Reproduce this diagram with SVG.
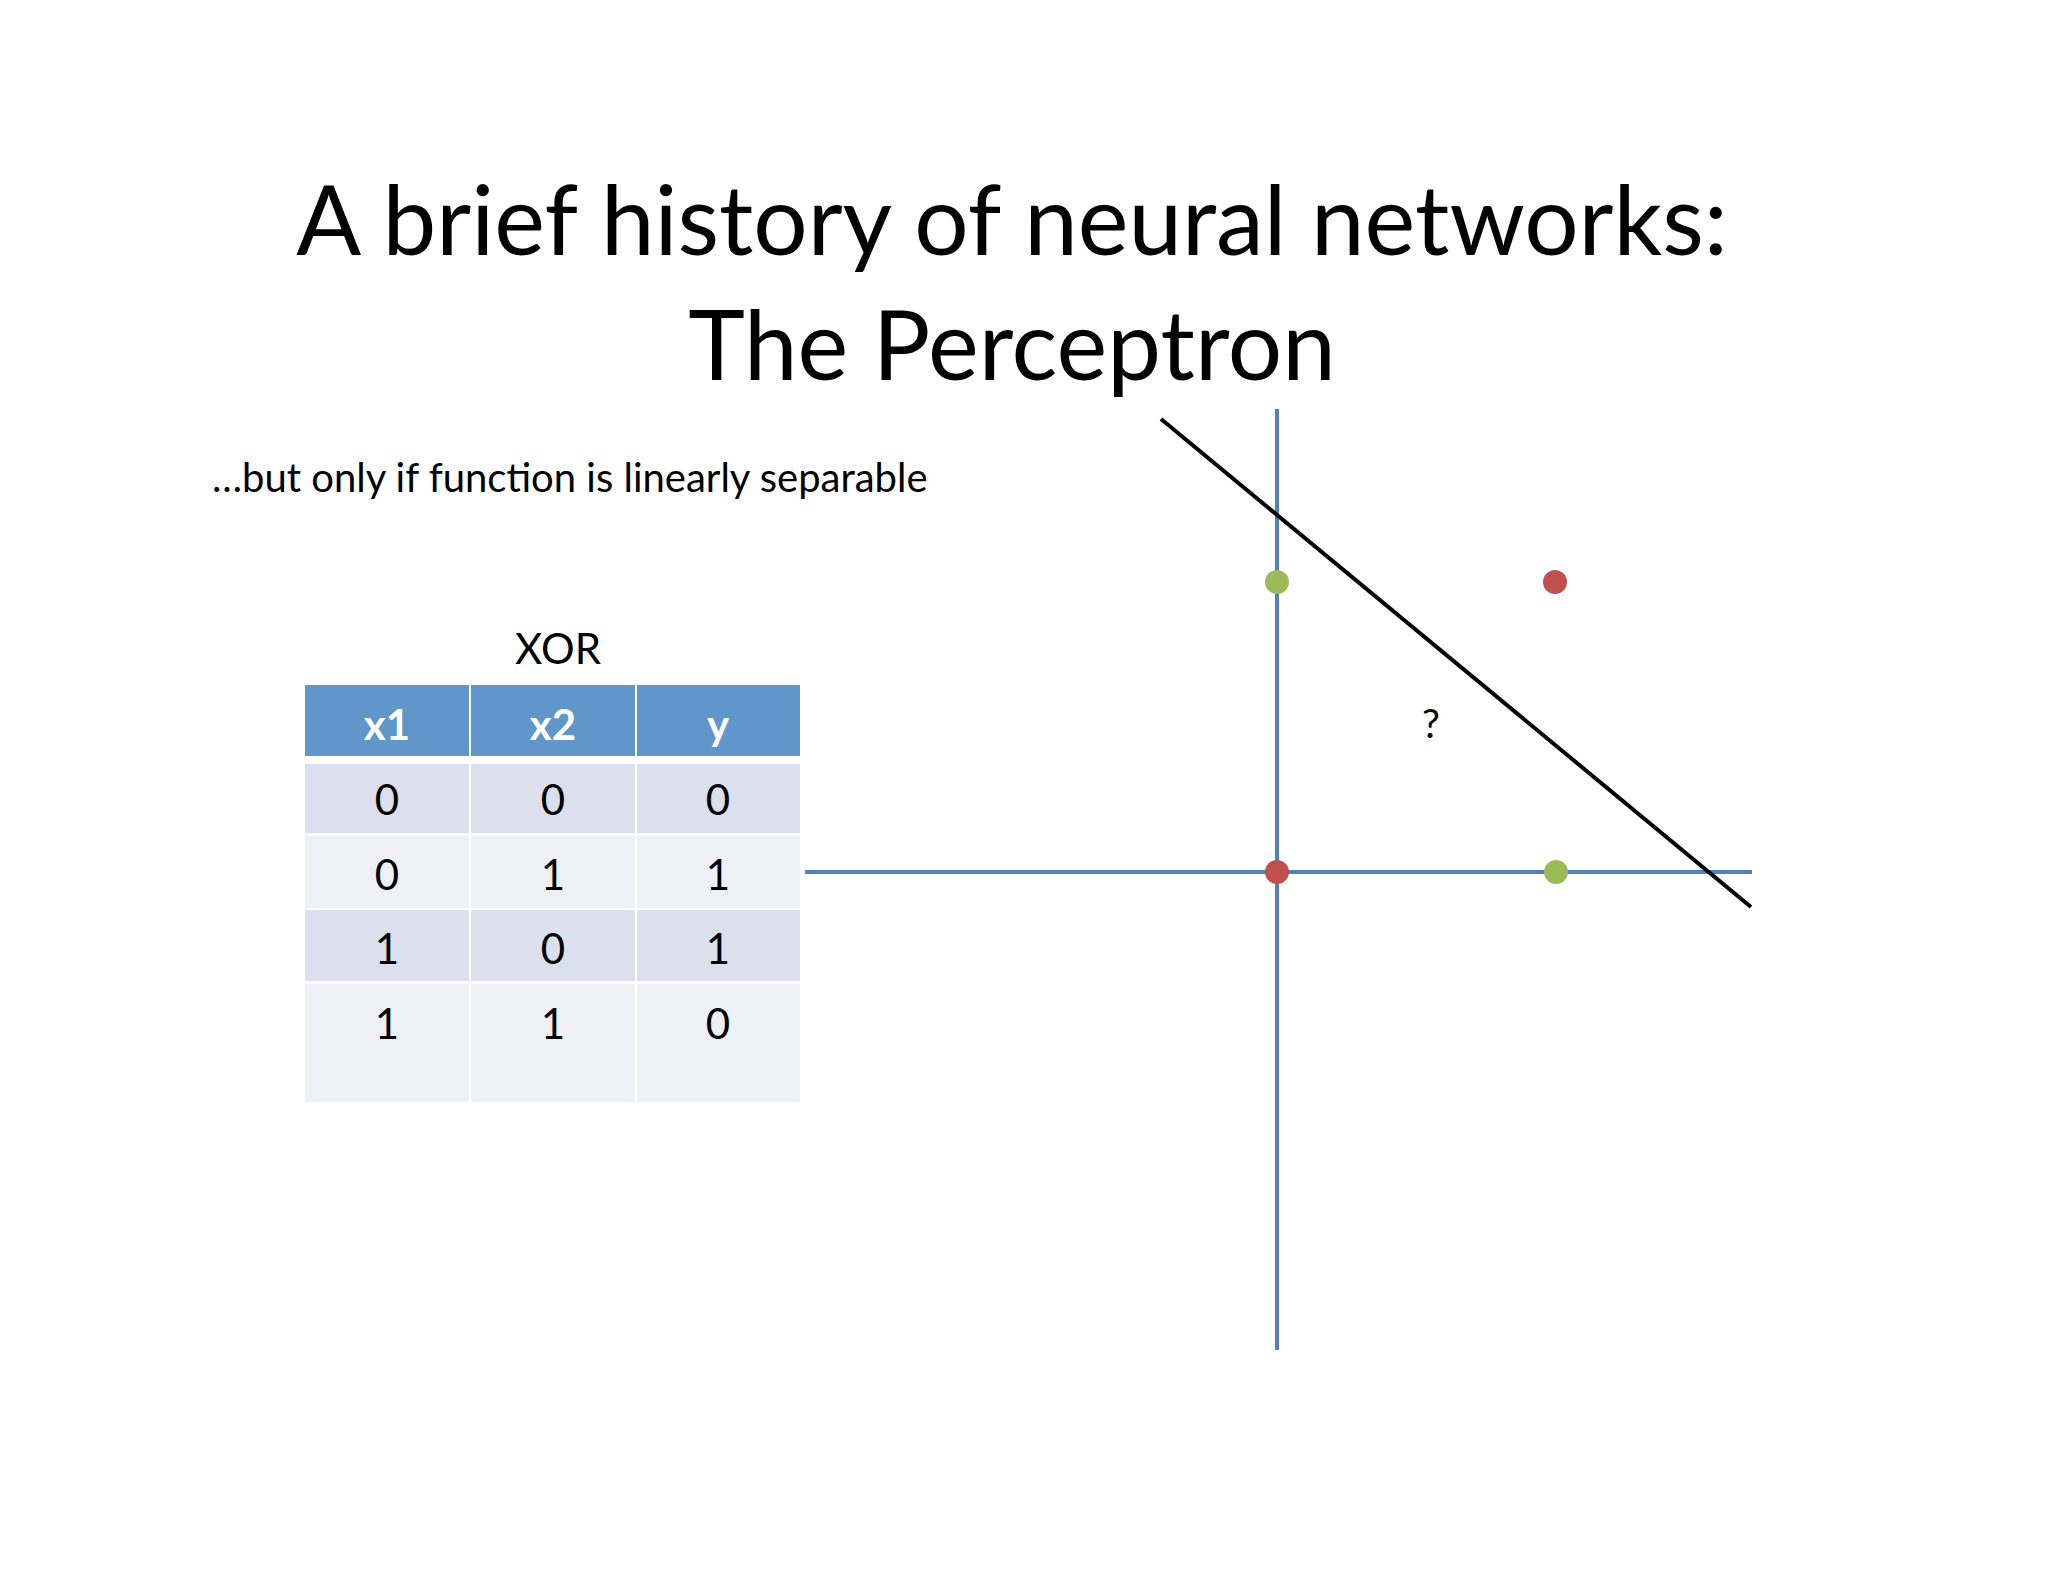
<svg xmlns="http://www.w3.org/2000/svg" width="2048" height="1582" viewBox="0 0 2048 1582">
<style>
text{font-family:Lato,"Open Sans","Liberation Sans",sans-serif;fill:#000}
.c{text-anchor:middle;font-size:42px}
.h{fill:#fff;font-weight:bold}
.ax{stroke:#4f81bd;stroke-width:4}
</style>
<rect width="2048" height="1582" fill="#fff"/>
<g id="title"><text x="1012" y="255" text-anchor="middle" font-size="96">A brief history of neural networks:</text>
<text x="1012" y="380" text-anchor="middle" font-size="96">The Perceptron</text></g>
<text id="subtitle" x="212" y="492" font-size="40">…but only if function is linearly separable</text>
<g id="table">
<text class="c" x="558" y="664">XOR</text>
<rect x="305" y="685" width="164" height="71" fill="#6096c9"/><rect x="471" y="685" width="164" height="71" fill="#6096c9"/><rect x="637" y="685" width="163" height="71" fill="#6096c9"/>
<text class="c h" x="387" y="740">x1</text><text class="c h" x="553" y="740">x2</text><text class="c h" x="718" y="740">y</text>
<g fill="#dbe0ec"><rect x="305" y="764" width="164" height="69"/><rect x="471" y="764" width="164" height="69"/><rect x="637" y="764" width="163" height="69"/>
<rect x="305" y="910" width="164" height="71"/><rect x="471" y="910" width="164" height="71"/><rect x="637" y="910" width="163" height="71"/></g>
<g fill="#eef0f6"><rect x="305" y="836" width="164" height="72"/><rect x="471" y="836" width="164" height="72"/><rect x="637" y="836" width="163" height="72"/>
<rect x="305" y="984" width="164" height="118"/><rect x="471" y="984" width="164" height="118"/><rect x="637" y="984" width="163" height="118"/></g>
<text class="c" x="387" y="815">0</text><text class="c" x="553" y="815">0</text><text class="c" x="718" y="815">0</text>
<text class="c" x="387" y="890">0</text><text class="c" x="553" y="890">1</text><text class="c" x="718" y="890">1</text>
<text class="c" x="387" y="964">1</text><text class="c" x="553" y="964">0</text><text class="c" x="718" y="964">1</text>
<text class="c" x="387" y="1039">1</text><text class="c" x="553" y="1039">1</text><text class="c" x="718" y="1039">0</text>
</g>
<g id="plot">
<line class="ax" x1="805" y1="872" x2="1752" y2="872"/>
<line class="ax" x1="1277" y1="409" x2="1277" y2="1350"/>
<line x1="1161" y1="419" x2="1751" y2="907" stroke="#000" stroke-width="4"/>
<circle cx="1277" cy="582" r="12" fill="#9bbb59"/>
<circle cx="1555" cy="582" r="12" fill="#c0504d"/>
<circle cx="1277" cy="872" r="12" fill="#c0504d"/>
<circle cx="1556" cy="872" r="12" fill="#9bbb59"/>
<text x="1431" y="738" text-anchor="middle" font-size="40">?</text>
</g>
</svg>
